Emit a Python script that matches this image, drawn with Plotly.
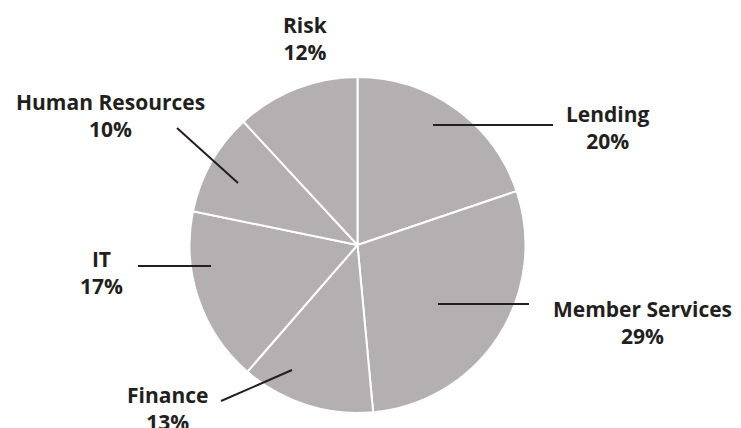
import plotly.graph_objects as go

# ---- data ----
categories = ["Lending", "Member Services", "Finance", "IT", "Human Resources", "Risk"]
shares = [20, 29, 13, 17, 10, 12]

# ---- style / layout (pixel positions in a 741x428 canvas) ----
W, H = 741, 428
pie_left, pie_right, pie_top, pie_bottom = 189, 526, 77, 413
slice_color = "#b4b0b2"
ink = "#231f20"
font_family = "Open Sans"
font_size = 21

# label block centers (px) and leader lines (px) per category
label_pos = {
    "Lending": (608, 127),
    "Member Services": (642, 322),
    "Finance": (167, 408),
    "IT": (101, 272),
    "Human Resources": (110, 115),
    "Risk": (305, 39),
}
leaders = {
    "Lending": ((433, 125), (553, 125)),
    "Member Services": ((438, 304), (529, 304)),
    "Finance": ((292, 370), (221, 401)),
    "IT": ((211, 266), (138, 266)),
    "Human Resources": ((238, 183), (177, 128)),
}

def px(x):
    return x / W

def py(y):
    return 1 - y / H

fig = go.Figure(
    go.Pie(
        labels=categories,
        values=shares,
        sort=False,
        direction="clockwise",
        rotation=0,
        textinfo="none",
        hoverinfo="skip",
        showlegend=False,
        marker=dict(colors=[slice_color] * len(categories),
                    line=dict(color="white", width=2)),
        domain=dict(x=[px(pie_left), px(pie_right)],
                    y=[py(pie_bottom), py(pie_top)]),
    )
)

annotations = []
for cat, val in zip(categories, shares):
    x, y = label_pos[cat]
    annotations.append(dict(
        x=px(x), y=py(y), xref="paper", yref="paper",
        text=f"{cat}<br>{val}%", showarrow=False,
        xanchor="center", yanchor="middle", align="center",
        font=dict(family=font_family, size=font_size, color=ink, weight=700),
    ))

shapes = []
for cat, ((x0, y0), (x1, y1)) in leaders.items():
    shapes.append(dict(
        type="line", xref="paper", yref="paper",
        x0=px(x0), y0=py(y0), x1=px(x1), y1=py(y1),
        line=dict(color=ink, width=2), layer="above",
    ))

fig.update_layout(
    width=W, height=H,
    margin=dict(l=0, r=0, t=0, b=0),
    paper_bgcolor="white", plot_bgcolor="white",
    annotations=annotations, shapes=shapes,
)

fig.write_html("out.html")
